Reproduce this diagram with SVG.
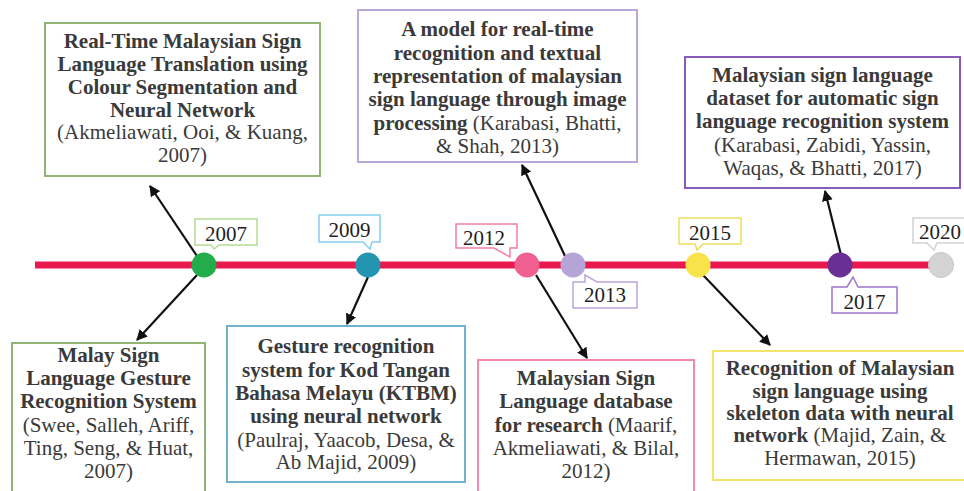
<svg xmlns="http://www.w3.org/2000/svg" width="964" height="491" viewBox="0 0 964 491">
<defs>
<marker id="ah" viewBox="0 0 10 10" refX="9" refY="5" markerWidth="5" markerHeight="5" orient="auto" markerUnits="strokeWidth">
<path d="M0,0 L10,5 L0,10 z" fill="#111"/>
</marker>
<style>
.t{font-family:"Liberation Serif","Times New Roman",serif;font-size:21px;fill:#3a3a3a;text-anchor:middle}
.b{font-weight:bold}
.y{font-family:"Liberation Serif","Times New Roman",serif;font-size:21px;fill:#1e1e1e;text-anchor:middle}
.box{fill:#fff;stroke-width:2}
.lab{fill:#fff;stroke-width:1.5}
.arr{stroke:#111;stroke-width:2.2;fill:none;marker-end:url(#ah)}
</style>
</defs>
<rect width="964" height="491" fill="#fff"/>

<g id="timeline">
<line x1="35" y1="265" x2="930" y2="265" stroke="#e8194f" stroke-width="7"/>
</g>

<g id="connectors">
<line class="arr" x1="197" y1="256" x2="150" y2="186"/>
<line class="arr" x1="197" y1="275" x2="137" y2="340"/>
<line class="arr" x1="368" y1="277" x2="347" y2="324"/>
<line class="arr" x1="565" y1="256" x2="522" y2="165"/>
<line class="arr" x1="536" y1="275" x2="587" y2="358"/>
<line class="arr" x1="703" y1="275" x2="770" y2="345"/>
<line class="arr" x1="841" y1="255" x2="825" y2="191"/>
</g>

<g id="y2007">
<circle cx="204" cy="265" r="12.5" fill="#22ad4a"/>
<path class="lab" stroke="#b6dc92" d="M195,219 H257 V245 H219 L214,249 L211,245 H195 Z"/>
<text class="y" x="226" y="240.5">2007</text>
</g>
<g id="y2009">
<circle cx="368" cy="265" r="12.5" fill="#2395b0"/>
<path class="lab" stroke="#84d0ee" d="M319,215 H380 V242 H372 L370,249 L363,242 H319 Z"/>
<text class="y" x="349.5" y="236.5">2009</text>
</g>
<g id="y2012">
<circle cx="527" cy="265" r="12.5" fill="#ef5f90"/>
<path class="lab" stroke="#f27fa3" d="M456,224 H517 V248 H510 V257 L494,248 H456 Z"/>
<text class="y" x="484" y="244.5">2012</text>
</g>
<g id="y2013">
<circle cx="573" cy="265" r="12.5" fill="#b4a5d6"/>
<path class="lab" stroke="#b9a6dc" d="M573,282 H585 V275 L597,282 H637 V308 H573 Z"/>
<text class="y" x="605" y="302">2013</text>
</g>
<g id="y2015">
<circle cx="698" cy="265" r="12.5" fill="#f9e34a"/>
<path class="lab" stroke="#f1de5c" d="M679,218 H741 V244 H703 L697,250 L695,244 H679 Z"/>
<text class="y" x="710" y="240">2015</text>
</g>
<g id="y2017">
<circle cx="840" cy="265" r="12.5" fill="#6a2f95"/>
<path class="lab" stroke="#9e76c8" d="M832,287 H847 L853,277 L858,287 H897 V313 H832 Z"/>
<text class="y" x="864.5" y="309">2017</text>
</g>
<g id="y2020">
<circle cx="941" cy="265" r="12.5" fill="#d4d4d4" stroke="#c6c6c6" stroke-width="1"/>
<path class="lab" stroke="#d2d2d2" d="M913,218 H966 V243 H937 L934,250 L927,243 H913 Z"/>
<text class="y" x="940" y="239">2020</text>
</g>

<g id="n2007a">
<rect class="box" stroke="#8fb573" x="45" y="23" width="275" height="153"/>
<text class="t b" x="182.5" y="48">Real-Time Malaysian Sign</text>
<text class="t b" x="182.5" y="71">Language Translation using</text>
<text class="t b" x="182.5" y="94">Colour Segmentation and</text>
<text class="t b" x="182.5" y="117">Neural Network</text>
<text class="t" x="182.5" y="139">(Akmeliawati, Ooi, &amp; Kuang,</text>
<text class="t" x="182.5" y="162">2007)</text>
</g>

<g id="n2013">
<rect class="box" stroke="#b8a8dc" x="358" y="10" width="279" height="152"/>
<text class="t b" x="497.5" y="36">A model for real-time</text>
<text class="t b" x="497.5" y="59.5">recognition and textual</text>
<text class="t b" x="497.5" y="83">representation of malaysian</text>
<text class="t b" x="497.5" y="106">sign language through image</text>
<text class="t" x="497.5" y="129.5"><tspan class="b">processing</tspan> (Karabasi, Bhatti,</text>
<text class="t" x="497.5" y="152.5">&amp; Shah, 2013)</text>
</g>

<g id="n2017">
<rect class="box" stroke="#8a5bbf" x="685" y="57" width="275" height="131"/>
<text class="t b" x="822.5" y="82">Malaysian sign language</text>
<text class="t b" x="822.5" y="105">dataset for automatic sign</text>
<text class="t b" x="822.5" y="128">language recognition system</text>
<text class="t" x="822.5" y="152">(Karabasi, Zabidi, Yassin,</text>
<text class="t" x="822.5" y="175">Waqas, &amp; Bhatti, 2017)</text>
</g>

<g id="n2007b">
<rect class="box" stroke="#8fb573" x="12" y="343" width="193" height="160"/>
<text class="t b" x="108.5" y="361.5">Malay Sign</text>
<text class="t b" x="108.5" y="385">Language Gesture</text>
<text class="t b" x="108.5" y="408">Recognition System</text>
<text class="t" x="108.5" y="432">(Swee, Salleh, Ariff,</text>
<text class="t" x="108.5" y="455">Ting, Seng, &amp; Huat,</text>
<text class="t" x="108.5" y="478">2007)</text>
</g>

<g id="n2009">
<rect class="box" stroke="#6fb3cc" x="227" y="326" width="238" height="156"/>
<text class="t b" x="346" y="353">Gesture recognition</text>
<text class="t b" x="346" y="377">system for Kod Tangan</text>
<text class="t b" x="346" y="400">Bahasa Melayu (KTBM)</text>
<text class="t b" x="346" y="422.5">using neural network</text>
<text class="t" x="346" y="446.5">(Paulraj, Yaacob, Desa, &amp;</text>
<text class="t" x="346" y="468.5">Ab Majid, 2009)</text>
</g>

<g id="n2012">
<rect class="box" stroke="#f08aa8" x="478" y="360" width="216" height="145"/>
<text class="t b" x="586" y="385">Malaysian Sign</text>
<text class="t b" x="586" y="408">Language database</text>
<text class="t" x="586" y="431.5"><tspan class="b">for research</tspan> (Maarif,</text>
<text class="t" x="586" y="455">Akmeliawati, &amp; Bilal,</text>
<text class="t" x="586" y="478">2012)</text>
</g>

<g id="n2015">
<rect class="box" stroke="#f3e46c" x="713" y="351" width="260" height="129"/>
<text class="t b" x="840" y="375">Recognition of Malaysian</text>
<text class="t b" x="840" y="397.5">sign language using</text>
<text class="t b" x="840" y="420">skeleton data with neural</text>
<text class="t" x="840" y="442"><tspan class="b">network</tspan> (Majid, Zain, &amp;</text>
<text class="t" x="840" y="465">Hermawan, 2015)</text>
</g>
</svg>
